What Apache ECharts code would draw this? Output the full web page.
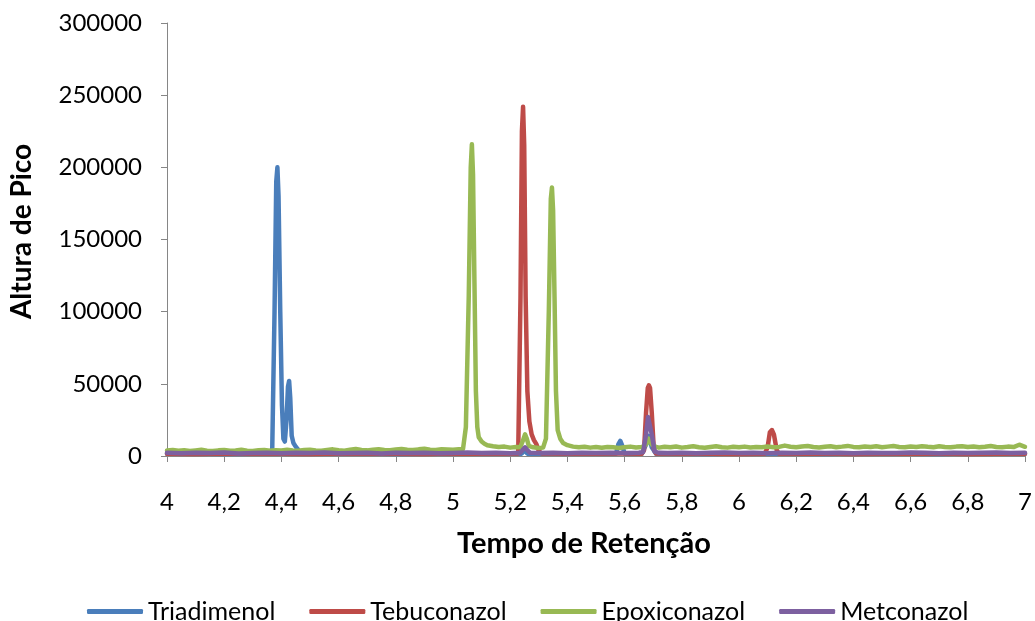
<!DOCTYPE html>
<html>
<head>
<meta charset="utf-8">
<script src="https://cdn.jsdelivr.net/npm/echarts@6/dist/echarts.min.js"></script>
<style>
  html, body { margin: 0; padding: 0; background: #fff; }
  #chart { width: 1035px; height: 621px; }
</style>
</head>
<body>
<div id="chart"></div>
<script>
// Chromatogram: peak height vs. retention time for four triazole fungicides

const seriesNames = ['Triadimenol', 'Tebuconazol', 'Epoxiconazol', 'Metconazol'];

const triadimenolTime = [4.00, 4.10, 4.20, 4.30, 4.36, 4.368, 4.376, 4.382, 4.386, 4.390, 4.396, 4.402, 4.407, 4.412, 4.418, 4.423, 4.427, 4.431, 4.436, 4.442, 4.45, 4.46, 4.47, 4.50, 4.60, 4.70, 4.80, 4.90, 5.00, 5.10, 5.20, 5.24, 5.25, 5.26, 5.30, 5.40, 5.50, 5.57, 5.578, 5.585, 5.592, 5.60, 5.66, 5.675, 5.685, 5.695, 5.71, 5.80, 5.90, 6.00, 6.10, 6.20, 6.30, 6.40, 6.50, 6.60, 6.70, 6.80, 6.90, 7.00];
const triadimenolHeight = [1500, 1700, 1400, 1600, 1500, 5000, 100000, 190000, 200000, 180000, 100000, 35000, 12000, 10000, 25000, 48000, 52000, 40000, 14000, 9000, 6500, 4000, 2500, 1600, 1500, 1700, 1400, 1600, 1500, 1700, 1500, 1600, 4000, 1600, 1500, 1700, 1500, 1600, 8000, 10500, 7000, 1600, 1500, 8000, 14000, 6000, 1500, 1600, 1400, 1700, 1500, 1600, 1400, 1700, 1500, 1600, 1400, 1700, 1500, 1600];

const tebuconazolTime = [4.00, 4.10, 4.20, 4.30, 4.40, 4.50, 4.60, 4.70, 4.80, 4.90, 5.00, 5.10, 5.20, 5.228, 5.236, 5.241, 5.245, 5.249, 5.254, 5.260, 5.267, 5.275, 5.283, 5.292, 5.300, 5.31, 5.40, 5.50, 5.60, 5.66, 5.668, 5.675, 5.681, 5.685, 5.689, 5.695, 5.702, 5.71, 5.80, 5.90, 6.00, 6.09, 6.100, 6.108, 6.115, 6.122, 6.132, 6.14, 6.20, 6.30, 6.40, 6.50, 6.60, 6.70, 6.80, 6.90, 7.00];
const tebuconazolHeight = [1600, 1400, 1700, 1500, 1600, 1400, 1700, 1500, 1600, 1400, 1700, 1500, 1600, 1800, 110000, 225000, 242000, 215000, 110000, 45000, 24000, 15000, 11000, 8000, 3500, 1800, 1600, 1500, 1700, 1600, 4000, 30000, 47000, 49000, 47000, 30000, 5000, 1700, 1500, 1600, 1400, 1600, 6000, 16500, 18000, 15000, 4000, 1600, 1500, 1700, 1400, 1600, 1500, 1700, 1400, 1600, 1500];

const epoxiconazolTime = [4.00, 4.02, 4.04, 4.06, 4.08, 4.10, 4.12, 4.14, 4.16, 4.18, 4.20, 4.22, 4.24, 4.26, 4.28, 4.30, 4.32, 4.34, 4.36, 4.38, 4.40, 4.42, 4.44, 4.46, 4.48, 4.50, 4.52, 4.54, 4.56, 4.58, 4.60, 4.62, 4.64, 4.66, 4.68, 4.70, 4.72, 4.74, 4.76, 4.78, 4.80, 4.82, 4.84, 4.86, 4.88, 4.90, 4.92, 4.94, 4.96, 4.98, 5.00, 5.02, 5.035, 5.045, 5.055, 5.062, 5.066, 5.070, 5.075, 5.080, 5.085, 5.09, 5.10, 5.11, 5.12, 5.14, 5.16, 5.18, 5.20, 5.22, 5.235, 5.245, 5.252, 5.258, 5.265, 5.28, 5.30, 5.315, 5.325, 5.335, 5.342, 5.346, 5.350, 5.355, 5.360, 5.366, 5.375, 5.385, 5.40, 5.42, 5.44, 5.46, 5.48, 5.50, 5.52, 5.54, 5.56, 5.58, 5.60, 5.62, 5.64, 5.66, 5.675, 5.685, 5.695, 5.71, 5.72, 5.74, 5.76, 5.78, 5.80, 5.82, 5.84, 5.86, 5.88, 5.90, 5.92, 5.94, 5.96, 5.98, 6.00, 6.02, 6.04, 6.06, 6.08, 6.10, 6.12, 6.14, 6.16, 6.18, 6.20, 6.22, 6.24, 6.26, 6.28, 6.30, 6.32, 6.34, 6.36, 6.38, 6.40, 6.42, 6.44, 6.46, 6.48, 6.50, 6.52, 6.54, 6.56, 6.58, 6.60, 6.62, 6.64, 6.66, 6.68, 6.70, 6.72, 6.74, 6.76, 6.78, 6.80, 6.82, 6.84, 6.86, 6.88, 6.90, 6.92, 6.94, 6.96, 6.98, 7.00];
const epoxiconazolHeight = [3800, 4200, 3600, 4000, 3500, 3900, 4300, 3700, 3400, 3900, 4100, 3600, 3800, 4400, 3700, 3500, 4000, 4200, 3600, 4000, 3800, 4300, 3900, 3600, 4100, 4400, 3800, 3600, 4200, 4600, 4000, 3700, 4300, 4800, 4100, 3900, 4400, 4700, 4200, 4000, 4500, 4900, 4300, 4100, 4600, 5000, 4400, 4200, 4700, 4500, 4300, 4600, 4800, 20000, 110000, 200000, 216000, 195000, 120000, 45000, 20000, 13000, 10000, 8500, 7500, 6800, 6200, 6500, 5800, 6200, 6000, 11000, 15000, 12000, 7000, 6000, 5500, 5800, 12000, 100000, 178000, 186000, 170000, 110000, 45000, 18000, 12000, 9000, 7500, 6500, 6000, 6400, 5800, 6200, 5700, 6300, 6000, 5600, 6100, 6500, 5900, 6200, 8000, 12000, 8000, 6300, 5800, 6400, 6000, 6600, 5800, 6200, 6700, 6000, 5700, 6300, 6800, 6100, 5800, 6400, 6000, 6500, 5900, 6300, 6100, 6600, 6000, 6300, 7200, 6400, 6000, 6600, 6900, 6200, 5900, 6400, 6800, 6100, 6500, 7000, 6300, 6000, 6600, 6200, 6700, 6100, 6500, 6900, 6300, 6000, 6600, 6200, 6800, 6400, 6100, 6700, 6300, 6000, 6500, 6800, 6200, 6600, 6100, 6400, 6900, 6300, 6000, 6500, 6200, 7800, 6400];

const metconazolTime = [4.00, 4.05, 4.10, 4.15, 4.20, 4.25, 4.30, 4.35, 4.40, 4.45, 4.50, 4.55, 4.60, 4.65, 4.70, 4.75, 4.80, 4.85, 4.90, 4.95, 5.00, 5.05, 5.10, 5.15, 5.20, 5.235, 5.245, 5.252, 5.26, 5.27, 5.30, 5.35, 5.40, 5.45, 5.50, 5.55, 5.60, 5.65, 5.665, 5.675, 5.682, 5.688, 5.695, 5.705, 5.72, 5.75, 5.80, 5.85, 5.90, 5.95, 6.00, 6.05, 6.10, 6.15, 6.20, 6.25, 6.30, 6.35, 6.40, 6.45, 6.50, 6.55, 6.60, 6.65, 6.70, 6.75, 6.80, 6.85, 6.90, 6.95, 7.00];
const metconazolHeight = [2200, 1900, 2300, 2000, 2400, 1800, 2100, 2300, 1900, 2200, 2000, 2400, 1900, 2100, 2300, 1800, 2200, 2000, 2300, 1900, 2100, 2400, 2000, 2200, 1900, 2300, 4500, 6000, 4000, 2200, 2000, 2300, 1900, 2200, 2000, 2300, 2100, 2200, 2800, 15000, 27000, 28000, 15000, 3000, 2200, 2000, 2300, 1900, 2200, 2400, 2000, 2200, 1900, 2300, 2100, 2400, 2000, 2200, 1900, 2300, 2100, 2000, 2400, 2200, 1900, 2300, 2000, 2200, 2400, 2000, 2200];

const xTicks = { min: 4, max: 7, step: 0.2 };
const yTicks = { min: 0, max: 300000, step: 50000 };

const colors = ['#4A7EBB', '#BE4B48', '#98B954', '#7D60A0'];
const times = [triadimenolTime, tebuconazolTime, epoxiconazolTime, metconazolTime];
const heights = [triadimenolHeight, tebuconazolHeight, epoxiconazolHeight, metconazolHeight];

const font = 'Lato, "Open Sans", sans-serif';
const axisGrey = '#868686';

const chart = echarts.init(document.getElementById('chart'), null, { renderer: 'canvas' });

chart.setOption({
  animation: false,
  backgroundColor: '#ffffff',
  color: colors,
  grid: { left: 167, right: 10, top: 23, bottom: 165 },
  legend: {
    top: 594,
    left: 82,
    itemWidth: 56,
    itemHeight: 5,
    itemGap: 34,
    icon: 'roundRect',
    textStyle: { fontFamily: font, fontSize: 25, color: '#000' },
    data: seriesNames
  },
  xAxis: {
    type: 'value',
    min: xTicks.min,
    max: xTicks.max,
    interval: xTicks.step,
    name: 'Tempo de Retenção',
    nameLocation: 'middle',
    nameGap: 73,
    nameMoveOverlap: false,
    nameTextStyle: { fontFamily: font, fontSize: 29, fontWeight: 'bold', color: '#000', padding: [0, 24, 0, 0] },
    axisLine: { show: true, lineStyle: { color: axisGrey, width: 1 } },
    axisTick: { show: true, length: 6, lineStyle: { color: axisGrey } },
    splitLine: { show: false },
    axisLabel: {
      margin: 34,
      fontFamily: font,
      fontSize: 24,
      color: '#000',
      formatter: v => String(Math.round(v * 10) / 10).replace('.', ',')
    }
  },
  yAxis: {
    type: 'value',
    min: yTicks.min,
    max: yTicks.max,
    interval: yTicks.step,
    name: 'Altura de Pico',
    nameLocation: 'middle',
    nameGap: 131,
    nameRotate: 90,
    nameTextStyle: { fontFamily: font, fontSize: 28, fontWeight: 'bold', color: '#000', padding: [0, 0, 0, 16] },
    axisLine: { show: true, lineStyle: { color: axisGrey, width: 1 } },
    axisTick: { show: true, length: 6, lineStyle: { color: axisGrey } },
    splitLine: { show: false },
    axisLabel: { margin: 25, fontFamily: font, fontSize: 24, color: '#000', formatter: v => String(v) }
  },
  series: seriesNames.map((name, i) => ({
    name: name,
    type: 'line',
    showSymbol: false,
    symbol: 'none',
    smooth: false,
    z: 2 + i,
    lineStyle: { width: 4.5, color: colors[i], cap: 'round', join: 'round' },
    itemStyle: { color: colors[i] },
    data: times[i].map((t, k) => [t, heights[i][k]])
  }))
});
</script>
</body>
</html>
